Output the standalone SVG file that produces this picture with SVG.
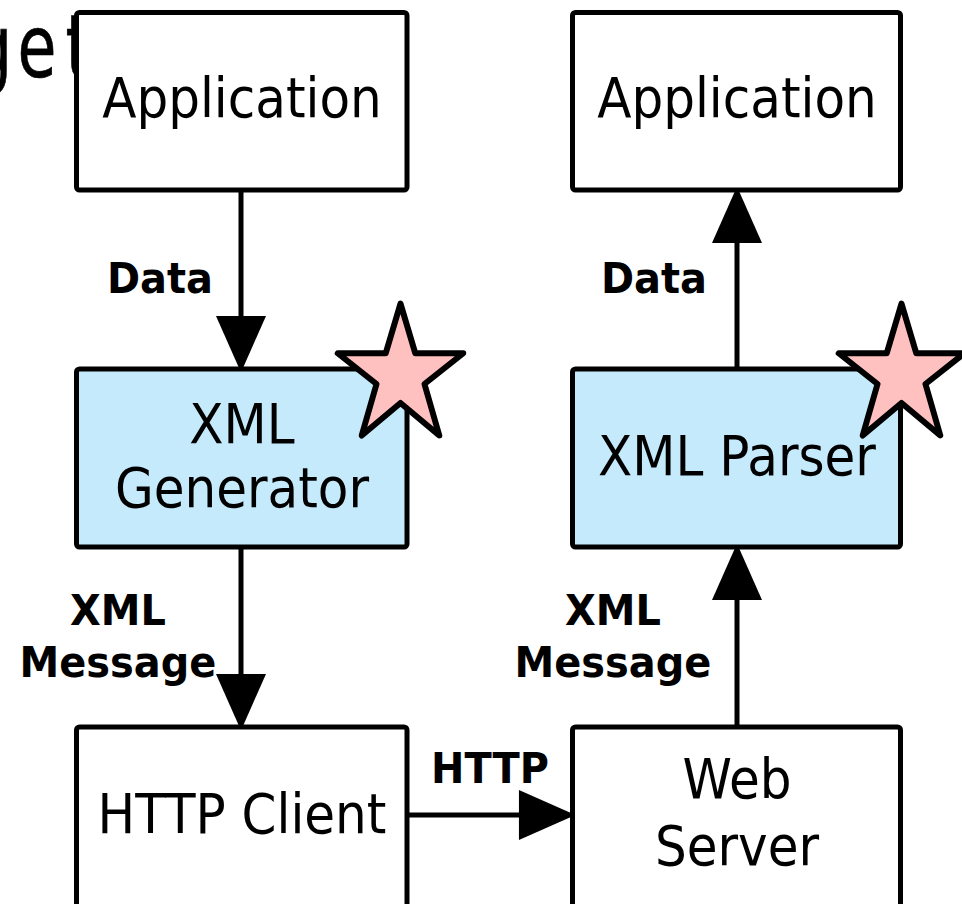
<svg xmlns="http://www.w3.org/2000/svg" width="962" height="904" viewBox="0 0 962 904">
<style>
.box{fill:#ffffff;stroke:#000;stroke-width:5}
.proc{fill:#c5eafb;stroke:#000;stroke-width:5}
.star{fill:#ffc0c0;stroke:#000;stroke-width:6;stroke-linejoin:round}
.t{font-family:"DejaVu Sans",Verdana,sans-serif;font-size:55px;fill:#000;text-anchor:middle}
.lbl{font-family:"DejaVu Sans",Verdana,sans-serif;font-weight:bold;font-size:42px;fill:#000;text-anchor:middle}
.edge{stroke:#000;stroke-width:5;fill:none;marker-end:url(#ah)}
</style>
<defs>
<marker id="ah" markerUnits="userSpaceOnUse" markerWidth="60" markerHeight="50" viewBox="0 0 52 46" refX="12" refY="23" orient="auto">
<path d="M0,0 L52,23 L0,46 Z" fill="#000"/>
</marker>
<polygon id="starShape" points="0,-71.9 14.81,-22.22 62.77,-22.23 23.97,8.49 38.79,59.96 0,27.47 -38.79,59.96 -23.97,8.49 -62.77,-22.23 -14.81,-22.22"/>
</defs>
<rect width="962" height="904" fill="#fff"/>
<text class="t" style="text-anchor:start;font-size:88px;stroke:#000;stroke-width:0.7" transform="translate(0,77) scale(0.72,1)" x="-38.9 24.3 91">get</text>
<g id="connectors">
<line class="edge" x1="241" y1="190" x2="241" y2="329"/>
<line class="edge" x1="241" y1="547" x2="241" y2="687"/>
<line class="edge" x1="737" y1="369" x2="737" y2="230"/>
<line class="edge" x1="737" y1="727" x2="737" y2="587"/>
<line class="edge" x1="407" y1="815" x2="532" y2="815"/>
<text class="lbl" transform="translate(160,293) scale(0.95,1)">Data</text>
<text class="lbl" transform="translate(654,293) scale(0.95,1)">Data</text>
<text class="lbl" transform="translate(118,625) scale(0.95,1)">XML</text>
<text class="lbl" transform="translate(118,677) scale(0.95,1)">Message</text>
<text class="lbl" transform="translate(613,625) scale(0.95,1)">XML</text>
<text class="lbl" transform="translate(613,677) scale(0.95,1)">Message</text>
<text class="lbl" transform="translate(490,783) scale(0.95,1)">HTTP</text>
</g>
<g id="app-left">
<rect class="box" x="76.5" y="12.5" width="330.5" height="177.5" rx="3"/>
<text class="t" transform="translate(242,117) scale(0.91,1)">Application</text>
</g>
<g id="app-right">
<rect class="box" x="572.5" y="12.5" width="328" height="177.5" rx="3"/>
<text class="t" transform="translate(737,117) scale(0.91,1)">Application</text>
</g>
<g id="xml-generator">
<rect class="proc" x="76.5" y="369" width="330.5" height="178" rx="3"/>
<text class="t" transform="translate(242,443) scale(0.91,1)">XML</text>
<text class="t" transform="translate(242,507) scale(0.91,1)">Generator</text>
</g>
<g id="xml-parser">
<rect class="proc" x="572.5" y="369" width="328" height="178" rx="3"/>
<text class="t" transform="translate(737,475) scale(0.91,1)">XML Parser</text>
</g>
<g id="http-client">
<rect class="box" x="76.5" y="727" width="330.5" height="190" rx="3"/>
<text class="t" transform="translate(242,833) scale(0.91,1)">HTTP Client</text>
</g>
<g id="web-server">
<rect class="box" x="572.5" y="727" width="328" height="190" rx="3"/>
<text class="t" transform="translate(737,798) scale(0.91,1)">Web</text>
<text class="t" transform="translate(737,865) scale(0.91,1)">Server</text>
</g>
<g id="star-left">
<use href="#starShape" class="star" transform="translate(400.5,375.5)"/>
</g>
<g id="star-right">
<use href="#starShape" class="star" transform="translate(901.5,375.5)"/>
</g>
</svg>
